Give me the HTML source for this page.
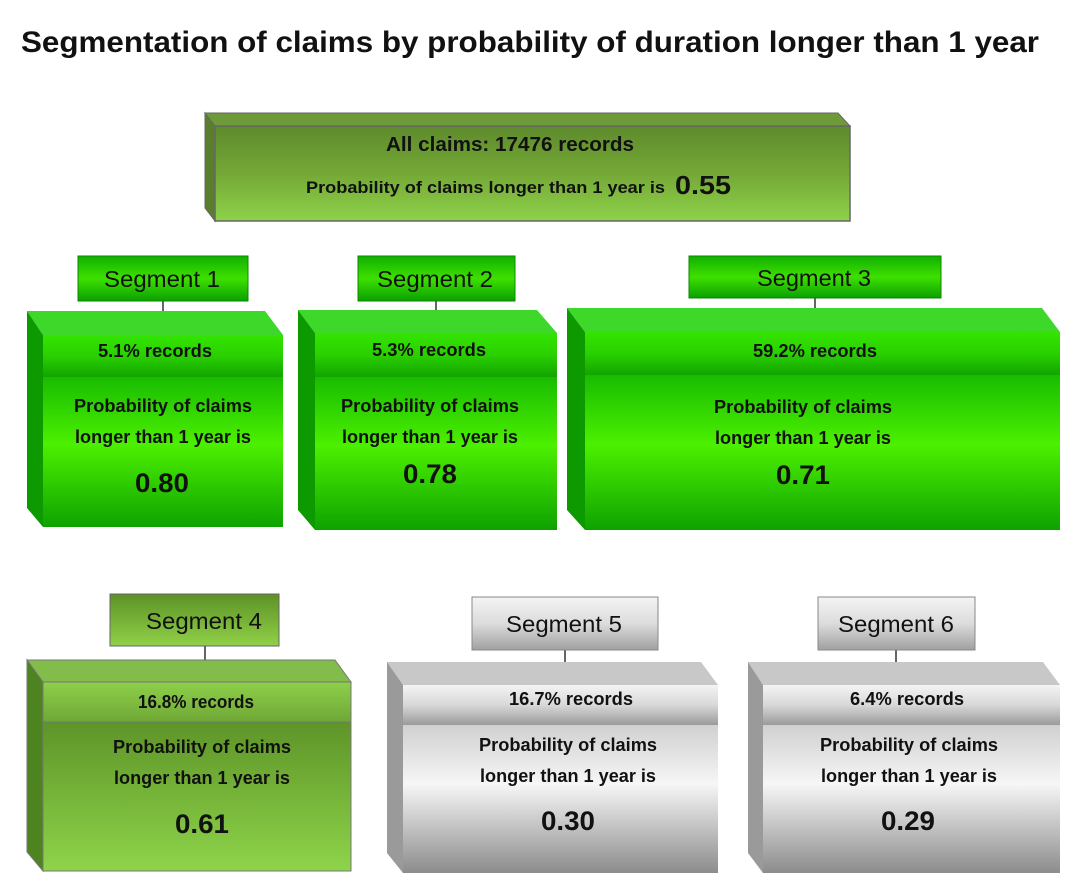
<!DOCTYPE html>
<html><head><meta charset="utf-8"><style>
html,body{margin:0;padding:0;background:#fff}
svg{display:block}
text{font-family:"Liberation Sans",sans-serif;fill:#111}
.b{font-weight:bold}
</style></head><body>
<svg width="1087" height="877" viewBox="0 0 1087 877" xmlns="http://www.w3.org/2000/svg">
<defs>
<linearGradient id="gTop" x1="0" y1="0" x2="0" y2="1"><stop offset="0" stop-color="#5e8a2c"/><stop offset="0.5" stop-color="#74a836"/><stop offset="1" stop-color="#8ed24a"/></linearGradient>
<linearGradient id="gHdr" x1="0" y1="0" x2="0" y2="1"><stop offset="0" stop-color="#34e400"/><stop offset="0.5" stop-color="#2ad000"/><stop offset="1" stop-color="#12a400"/></linearGradient>
<linearGradient id="gBody" x1="0" y1="0" x2="0" y2="1"><stop offset="0" stop-color="#18bc00"/><stop offset="0.45" stop-color="#4cf000"/><stop offset="1" stop-color="#0ea200"/></linearGradient>
<linearGradient id="gLbl" x1="0" y1="0" x2="0" y2="1"><stop offset="0" stop-color="#10b000"/><stop offset="0.5" stop-color="#3ee000"/><stop offset="1" stop-color="#0aa000"/></linearGradient>
<linearGradient id="oHdr" x1="0" y1="0" x2="0" y2="1"><stop offset="0" stop-color="#8ed04a"/><stop offset="1" stop-color="#6fa836"/></linearGradient>
<linearGradient id="oBody" x1="0" y1="0" x2="0" y2="1"><stop offset="0" stop-color="#5e9428"/><stop offset="1" stop-color="#8ed44a"/></linearGradient>
<linearGradient id="oLbl" x1="0" y1="0" x2="0" y2="1"><stop offset="0" stop-color="#5c9226"/><stop offset="1" stop-color="#90d048"/></linearGradient>
<linearGradient id="sHdr" x1="0" y1="0" x2="0" y2="1"><stop offset="0" stop-color="#f4f4f4"/><stop offset="0.5" stop-color="#d8d8d8"/><stop offset="1" stop-color="#9a9a9a"/></linearGradient>
<linearGradient id="sBody" x1="0" y1="0" x2="0" y2="1"><stop offset="0" stop-color="#d0d0d0"/><stop offset="0.4" stop-color="#f6f6f6"/><stop offset="1" stop-color="#8c8c8c"/></linearGradient>
<linearGradient id="sLbl" x1="0" y1="0" x2="0" y2="1"><stop offset="0" stop-color="#f4f4f4"/><stop offset="0.5" stop-color="#dcdcdc"/><stop offset="1" stop-color="#a0a0a0"/></linearGradient>
</defs>

<text x="530" y="52" class="b" font-size="30" text-anchor="middle" textLength="1018" lengthAdjust="spacingAndGlyphs">Segmentation of claims by probability of duration longer than 1 year</text>

<!-- top box -->
<polygon points="205,113 838,113 850,126 215,126" fill="#6e9a3a" stroke="#666" stroke-width="1"/>
<polygon points="205,113 215,126 215,221 205,208" fill="#5a7f2c" stroke="#666" stroke-width="1"/>
<rect x="215" y="126" width="635" height="95" fill="url(#gTop)" stroke="#666" stroke-width="1.5"/>
<text x="510" y="151" class="b" font-size="20" text-anchor="middle" textLength="248" lengthAdjust="spacingAndGlyphs">All claims:  17476 records</text>
<text x="306" y="193" class="b" font-size="17" textLength="359" lengthAdjust="spacingAndGlyphs">Probability of claims longer than 1 year is</text>
<text x="675" y="194" class="b" font-size="26" textLength="56" lengthAdjust="spacingAndGlyphs">0.55</text>

<!-- connectors -->
<g stroke="#666" stroke-width="2">
<line x1="163" y1="301" x2="163" y2="311"/>
<line x1="436" y1="301" x2="436" y2="310"/>
<line x1="815" y1="298" x2="815" y2="308"/>
<line x1="205" y1="646" x2="205" y2="660"/>
<line x1="565" y1="650" x2="565" y2="662"/>
<line x1="896" y1="650" x2="896" y2="662"/>
</g>

<!-- labels -->
<rect x="78" y="256" width="170" height="45" fill="url(#gLbl)" stroke="#0a8a00"/>
<text x="162" y="287" font-size="23" text-anchor="middle" textLength="116" lengthAdjust="spacingAndGlyphs">Segment 1</text>
<rect x="358" y="256" width="157" height="45" fill="url(#gLbl)" stroke="#0a8a00"/>
<text x="435" y="287" font-size="23" text-anchor="middle" textLength="116" lengthAdjust="spacingAndGlyphs">Segment 2</text>
<rect x="689" y="256" width="252" height="42" fill="url(#gLbl)" stroke="#0a8a00"/>
<text x="814" y="286" font-size="23" text-anchor="middle" textLength="114" lengthAdjust="spacingAndGlyphs">Segment 3</text>
<rect x="110" y="594" width="169" height="52" fill="url(#oLbl)" stroke="#666"/>
<text x="204" y="629" font-size="23" text-anchor="middle" textLength="116" lengthAdjust="spacingAndGlyphs">Segment 4</text>
<rect x="472" y="597" width="186" height="53" fill="url(#sLbl)" stroke="#888"/>
<text x="564" y="632" font-size="23" text-anchor="middle" textLength="116" lengthAdjust="spacingAndGlyphs">Segment 5</text>
<rect x="818" y="597" width="157" height="53" fill="url(#sLbl)" stroke="#888"/>
<text x="896" y="632" font-size="23" text-anchor="middle" textLength="116" lengthAdjust="spacingAndGlyphs">Segment 6</text>

<!-- Box 1 -->
<polygon points="27,311 265,311 283,335 43,335" fill="#3ed82a"/>
<polygon points="27,311 43,335 43,527 27,508" fill="#0c9a00"/>
<rect x="43" y="335" width="240" height="42" fill="url(#gHdr)"/>
<rect x="43" y="377" width="240" height="150" fill="url(#gBody)"/>
<text x="155" y="357" class="b" font-size="18" text-anchor="middle" textLength="114" lengthAdjust="spacingAndGlyphs">5.1% records</text>
<text x="163" y="412" class="b" font-size="18" text-anchor="middle" textLength="178" lengthAdjust="spacingAndGlyphs">Probability of claims</text>
<text x="163" y="443" class="b" font-size="18" text-anchor="middle" textLength="176" lengthAdjust="spacingAndGlyphs">longer than 1 year is</text>
<text x="162" y="492" class="b" font-size="27" text-anchor="middle" textLength="54" lengthAdjust="spacingAndGlyphs">0.80</text>

<!-- Box 2 -->
<polygon points="298,310 537,310 557,333 315,333" fill="#3ed82a"/>
<polygon points="298,310 315,333 315,530 298,510" fill="#0c9a00"/>
<rect x="315" y="333" width="242" height="44" fill="url(#gHdr)"/>
<rect x="315" y="377" width="242" height="153" fill="url(#gBody)"/>
<text x="429" y="356" class="b" font-size="18" text-anchor="middle" textLength="114" lengthAdjust="spacingAndGlyphs">5.3% records</text>
<text x="430" y="412" class="b" font-size="18" text-anchor="middle" textLength="178" lengthAdjust="spacingAndGlyphs">Probability of claims</text>
<text x="430" y="443" class="b" font-size="18" text-anchor="middle" textLength="176" lengthAdjust="spacingAndGlyphs">longer than 1 year is</text>
<text x="430" y="483" class="b" font-size="27" text-anchor="middle" textLength="54" lengthAdjust="spacingAndGlyphs">0.78</text>

<!-- Box 3 -->
<polygon points="567,308 1042,308 1060,332 585,332" fill="#3ed82a"/>
<polygon points="567,308 585,332 585,530 567,510" fill="#0c9a00"/>
<rect x="585" y="332" width="475" height="43" fill="url(#gHdr)"/>
<rect x="585" y="375" width="475" height="155" fill="url(#gBody)"/>
<text x="815" y="357" class="b" font-size="18" text-anchor="middle" textLength="124" lengthAdjust="spacingAndGlyphs">59.2% records</text>
<text x="803" y="413" class="b" font-size="18" text-anchor="middle" textLength="178" lengthAdjust="spacingAndGlyphs">Probability of claims</text>
<text x="803" y="444" class="b" font-size="18" text-anchor="middle" textLength="176" lengthAdjust="spacingAndGlyphs">longer than 1 year is</text>
<text x="803" y="484" class="b" font-size="27" text-anchor="middle" textLength="54" lengthAdjust="spacingAndGlyphs">0.71</text>

<!-- Box 4 -->
<polygon points="27,660 335,660 351,682 43,682" fill="#82bc4a" stroke="#777"/>
<polygon points="27,660 43,682 43,871 27,852" fill="#4e8420" stroke="#777"/>
<rect x="43" y="682" width="308" height="40" fill="url(#oHdr)" stroke="#777"/>
<rect x="43" y="722" width="308" height="149" fill="url(#oBody)" stroke="#777"/>
<text x="196" y="708" class="b" font-size="18" text-anchor="middle" textLength="116" lengthAdjust="spacingAndGlyphs">16.8% records</text>
<text x="202" y="753" class="b" font-size="18" text-anchor="middle" textLength="178" lengthAdjust="spacingAndGlyphs">Probability of claims</text>
<text x="202" y="784" class="b" font-size="18" text-anchor="middle" textLength="176" lengthAdjust="spacingAndGlyphs">longer than 1 year is</text>
<text x="202" y="833" class="b" font-size="27" text-anchor="middle" textLength="54" lengthAdjust="spacingAndGlyphs">0.61</text>

<!-- Box 5 -->
<polygon points="387,662 701,662 718,685 403,685" fill="#c8c8c8"/>
<polygon points="387,662 403,685 403,873 387,853" fill="#9a9a9a"/>
<rect x="403" y="685" width="315" height="40" fill="url(#sHdr)"/>
<rect x="403" y="725" width="315" height="148" fill="url(#sBody)"/>
<text x="571" y="705" class="b" font-size="18" text-anchor="middle" textLength="124" lengthAdjust="spacingAndGlyphs">16.7% records</text>
<text x="568" y="751" class="b" font-size="18" text-anchor="middle" textLength="178" lengthAdjust="spacingAndGlyphs">Probability of claims</text>
<text x="568" y="782" class="b" font-size="18" text-anchor="middle" textLength="176" lengthAdjust="spacingAndGlyphs">longer than 1 year is</text>
<text x="568" y="830" class="b" font-size="27" text-anchor="middle" textLength="54" lengthAdjust="spacingAndGlyphs">0.30</text>

<!-- Box 6 -->
<polygon points="748,662 1043,662 1060,685 763,685" fill="#c8c8c8"/>
<polygon points="748,662 763,685 763,873 748,853" fill="#9a9a9a"/>
<rect x="763" y="685" width="297" height="40" fill="url(#sHdr)"/>
<rect x="763" y="725" width="297" height="148" fill="url(#sBody)"/>
<text x="907" y="705" class="b" font-size="18" text-anchor="middle" textLength="114" lengthAdjust="spacingAndGlyphs">6.4% records</text>
<text x="909" y="751" class="b" font-size="18" text-anchor="middle" textLength="178" lengthAdjust="spacingAndGlyphs">Probability of claims</text>
<text x="909" y="782" class="b" font-size="18" text-anchor="middle" textLength="176" lengthAdjust="spacingAndGlyphs">longer than 1 year is</text>
<text x="908" y="830" class="b" font-size="27" text-anchor="middle" textLength="54" lengthAdjust="spacingAndGlyphs">0.29</text>
</svg>
</body></html>
